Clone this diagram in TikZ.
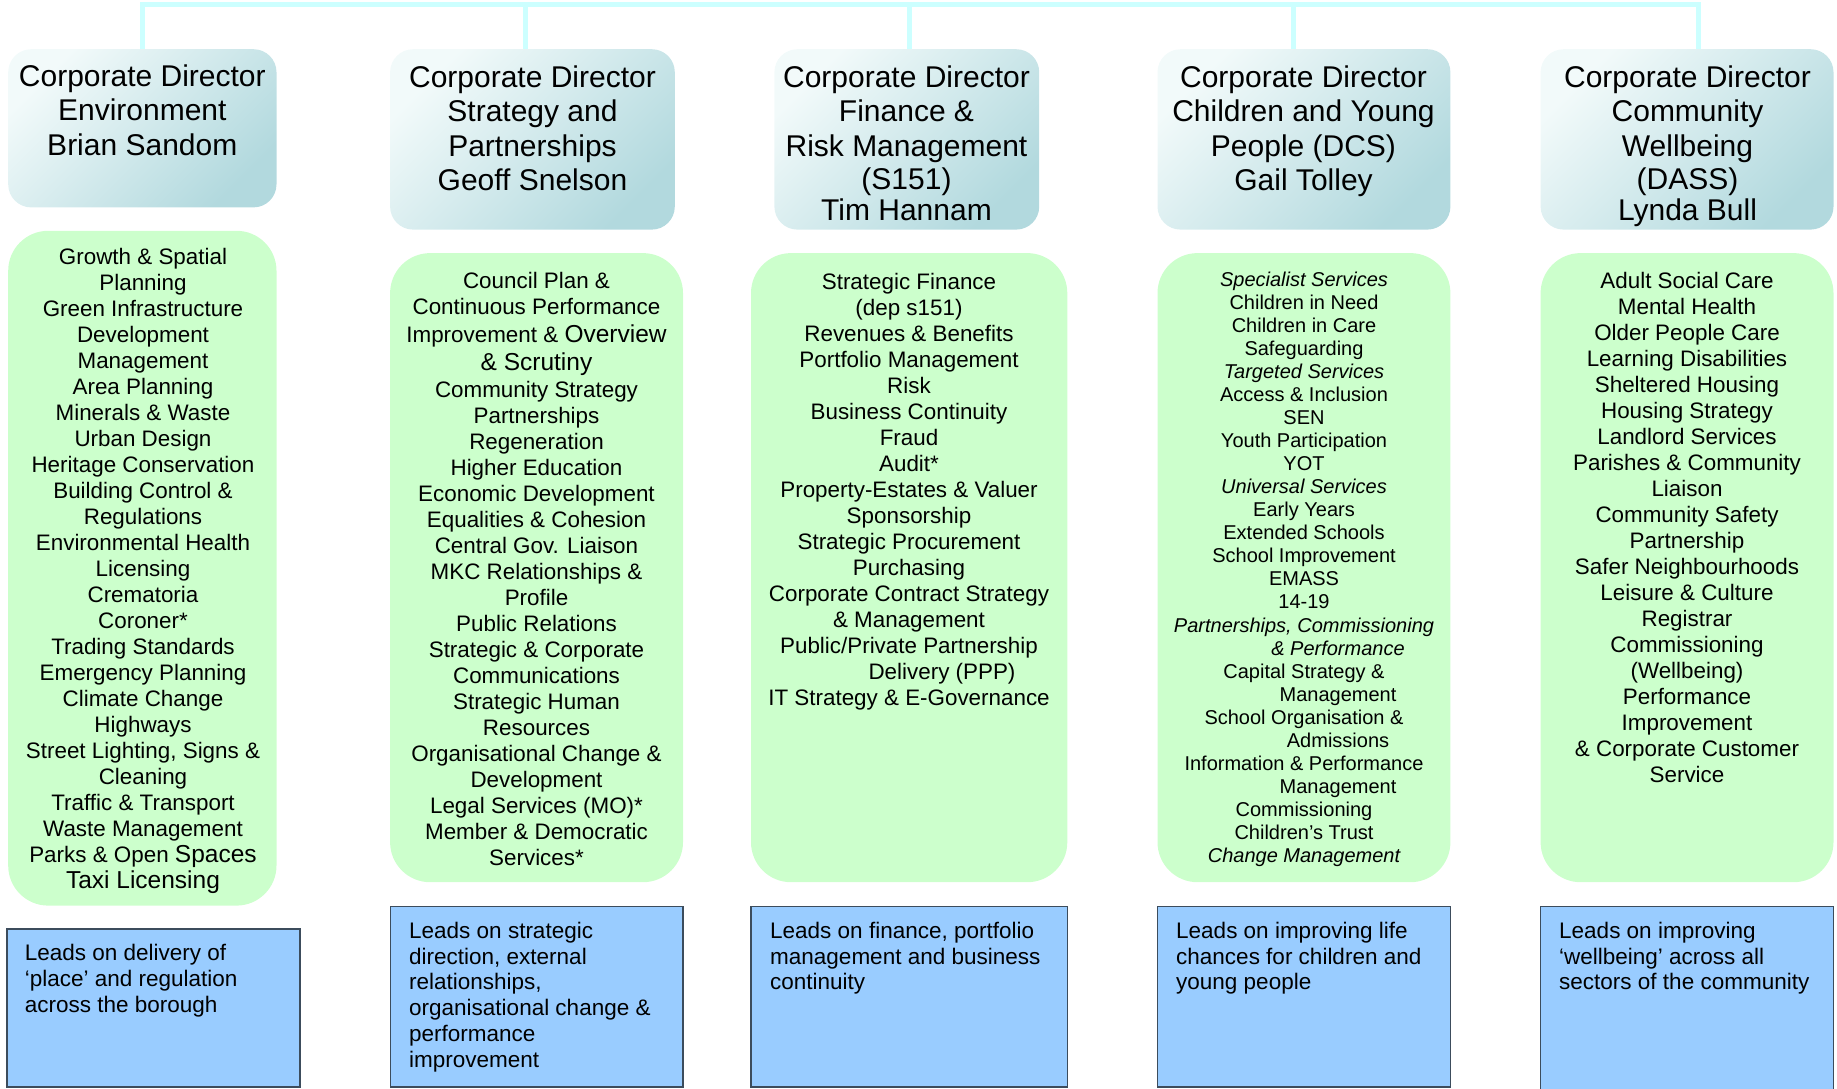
\documentclass[tikz,border=0pt]{standalone}
\usepackage{fontspec}
\setmainfont{Liberation Sans}
\usetikzlibrary{calc}
\definecolor{conn}{HTML}{CCFFFF}
\definecolor{grn}{HTML}{CCFFCC}
\definecolor{blu}{HTML}{99CCFF}
\definecolor{dlight}{HTML}{F2FAFA}
\definecolor{ddark}{HTML}{B2D9DE}
\definecolor{bluborder}{HTML}{3C4C5C}
\tikzset{
  dirbox/.style={rounded corners=23pt, top color=dlight, bottom color=ddark, shading angle=45,
    inner sep=0pt, outer sep=0pt, anchor=north west},
  grnbox/.style={rounded corners=40pt, fill=grn, inner sep=0pt, outer sep=0pt, anchor=north west},
  blubox/.style={fill=blu, draw=bluborder, line width=1.2pt, inner sep=0pt, outer sep=0pt, anchor=north west},
  connline/.style={draw=conn, line width=5pt},
  hdtext/.style={font=\fontsize{30}{34.5}\selectfont, align=center, inner sep=0pt, anchor=north},
  grtext/.style={font=\fontsize{22.4}{26}\selectfont, align=center, inner sep=0pt, anchor=north},
  smtext/.style={font=\fontsize{20}{23.06}\selectfont, align=center, inner sep=0pt, anchor=north},
  bltext/.style={font=\fontsize{22.5}{25.8}\selectfont, align=left, inner sep=0pt, anchor=north west},
}
\newcommand{\bigf}{\fontsize{24.5}{26}\selectfont}
\begin{document}
\begin{tikzpicture}[x=1pt,y=-1pt]
\useasboundingbox (0,0) rectangle (1837,1089);

% director boxes
\node[dirbox, minimum width=268.3pt, minimum height=158.2pt] (d1) at (8.2,49.2) {};
\node[dirbox, minimum width=284.7pt, minimum height=180.4pt] (d2) at (390.1,49.2) {};
\node[dirbox, minimum width=264.8pt, minimum height=180.4pt] (d3) at (774.4,49.2) {};
\node[dirbox, minimum width=292.9pt, minimum height=180.4pt] (d4) at (1157.5,49.2) {};
\node[dirbox, minimum width=292.9pt, minimum height=180.4pt] (d5) at (1540.6,49.2) {};

% connectors
\coordinate (c1) at (142,4.5);
\coordinate (c2) at (525,4.5);
\coordinate (c3) at (909,4.5);
\coordinate (c4) at (1293,4.5);
\coordinate (c5) at (1698,4.5);
\draw[connline] (c1 |- d1.north) -- (c1) -- (c5) -- (c5 |- d5.north);
\draw[connline] (c2) -- (c2 |- d2.north);
\draw[connline] (c3) -- (c3 |- d3.north);
\draw[connline] (c4) -- (c4 |- d4.north);

% green boxes
\node[grnbox, minimum width=268.3pt, minimum height=674.8pt] (g1) at (8.2,230.8) {};
\node[grnbox, minimum width=292.9pt, minimum height=629.1pt] (g2) at (390.1,253.1) {};
\node[grnbox, minimum width=316.3pt, minimum height=629.1pt] (g3) at (751.0,253.1) {};
\node[grnbox, minimum width=292.9pt, minimum height=629.1pt] (g4) at (1157.5,253.1) {};
\node[grnbox, minimum width=292.9pt, minimum height=629.1pt] (g5) at (1540.6,253.1) {};

% blue boxes
\node[blubox, minimum width=293pt, minimum height=158pt] (b1) at (7.0,929) {};
\node[blubox, minimum width=292.9pt, minimum height=180.2pt] (b2) at (390.1,906.8) {};
\node[blubox, minimum width=316.3pt, minimum height=180.2pt] (b3) at (751.0,906.8) {};
\node[blubox, minimum width=292.9pt, minimum height=180.2pt] (b4) at (1157.5,906.8) {};
\node[blubox, minimum width=292.9pt, minimum height=183pt] (b5) at (1540.6,906.8) {};

% director texts
\node[hdtext] (d1t) at (142.3,64.5) {Corporate Director\\Environment\\Brian Sandom};
\node[hdtext] (d2t) at (532.5,65.5) {Corporate Director\\Strategy and\\Partnerships\\Geoff Snelson};
\node[hdtext] (d3t) at (906.5,65.5) {Corporate Director\\Finance \&\\Risk Management\\[-1.7pt](S151)\\[-2.9pt]Tim Hannam};
\node[hdtext] (d4t) at (1303.5,65.5) {Corporate Director\\Children and Young\\People (DCS)\\Gail Tolley};
\node[hdtext] (d5t) at (1687.5,65.5) {Corporate Director\\Community\\Wellbeing\\[-1.7pt](DASS)\\[-2.9pt]Lynda Bull};

% green texts
\node[grtext] (g1t) at (143,248.3) {Growth \& Spatial\\Planning\\Green Infrastructure\\Development\\Management\\Area Planning\\Minerals \& Waste\\Urban Design\\Heritage Conservation\\Building Control \&\\Regulations\\Environmental Health\\Licensing\\Crematoria\\Coroner*\\Trading Standards\\Emergency Planning\\Climate Change\\Highways\\Street Lighting, Signs \&\\Cleaning\\Traffic \& Transport\\Waste Management\\Parks \& Open {\bigf Spaces}\\{\bigf Taxi Licensing}};
\node[grtext] (g2t) at (536.5,271.7) {Council Plan \&\\Continuous Performance\\[2pt]Improvement \& {\bigf Overview}\\[2pt]{\bigf \& Scrutiny}\\[1pt]Community Strategy\\Partnerships\\Regeneration\\Higher Education\\Economic Development\\Equalities \& Cohesion\\Central Gov. Liaison\\MKC Relationships \&\\Profile\\Public Relations\\Strategic \& Corporate\\Communications\\Strategic Human\\Resources\\Organisational Change \&\\Development\\Legal Services (MO)*\\Member \& Democratic\\Services*};
\node[grtext] (g3t) at (909,272.7) {Strategic Finance\\(dep s151)\\Revenues \& Benefits\\Portfolio Management\\Risk\\Business Continuity\\Fraud\\Audit*\\Property-Estates \& Valuer\\Sponsorship\\Strategic Procurement\\Purchasing\\Corporate Contract Strategy\\\& Management\\Public/Private Partnership\\\hspace*{66pt}Delivery (PPP)\\IT Strategy \& E-Governance};
\node[smtext] (g4t) at (1304,271.4) {{\itshape Specialist Services}\\Children in Need\\Children in Care\\Safeguarding\\{\itshape Targeted Services}\\Access \& Inclusion\\SEN\\Youth Participation\\YOT\\{\itshape Universal Services}\\Early Years\\Extended Schools\\School Improvement\\EMASS\\14-19\\{\itshape Partnerships, Commissioning}\\{\itshape\hspace*{68pt}\& Performance}\\Capital Strategy \&\\\hspace*{68pt}Management\\School Organisation \&\\\hspace*{68pt}Admissions\\Information \& Performance\\\hspace*{68pt}Management\\Commissioning\\Children’s Trust\\{\itshape Change Management}};
\node[grtext] (g5t) at (1687,271.7) {Adult Social Care\\Mental Health\\Older People Care\\Learning Disabilities\\Sheltered Housing\\Housing Strategy\\Landlord Services\\Parishes \& Community\\Liaison\\Community Safety\\Partnership\\Safer Neighbourhoods\\Leisure \& Culture\\Registrar\\Commissioning\\(Wellbeing)\\Performance\\Improvement\\\& Corporate Customer\\Service};

% blue texts
\node[bltext] (b1t) at (24.6,944.2) {Leads on delivery of\\‘place’ and regulation\\across the borough};
\node[bltext] (b2t) at (409,921.7) {Leads on strategic\\direction, external\\relationships,\\organisational change \&\\performance\\improvement};
\node[bltext] (b3t) at (770,921.7) {Leads on finance, portfolio\\management and business\\continuity};
\node[bltext] (b4t) at (1176,921.7) {Leads on improving life\\chances for children and\\young people};
\node[bltext] (b5t) at (1559,921.7) {Leads on improving\\‘wellbeing’ across all\\sectors of the community};
\end{tikzpicture}
\end{document}
